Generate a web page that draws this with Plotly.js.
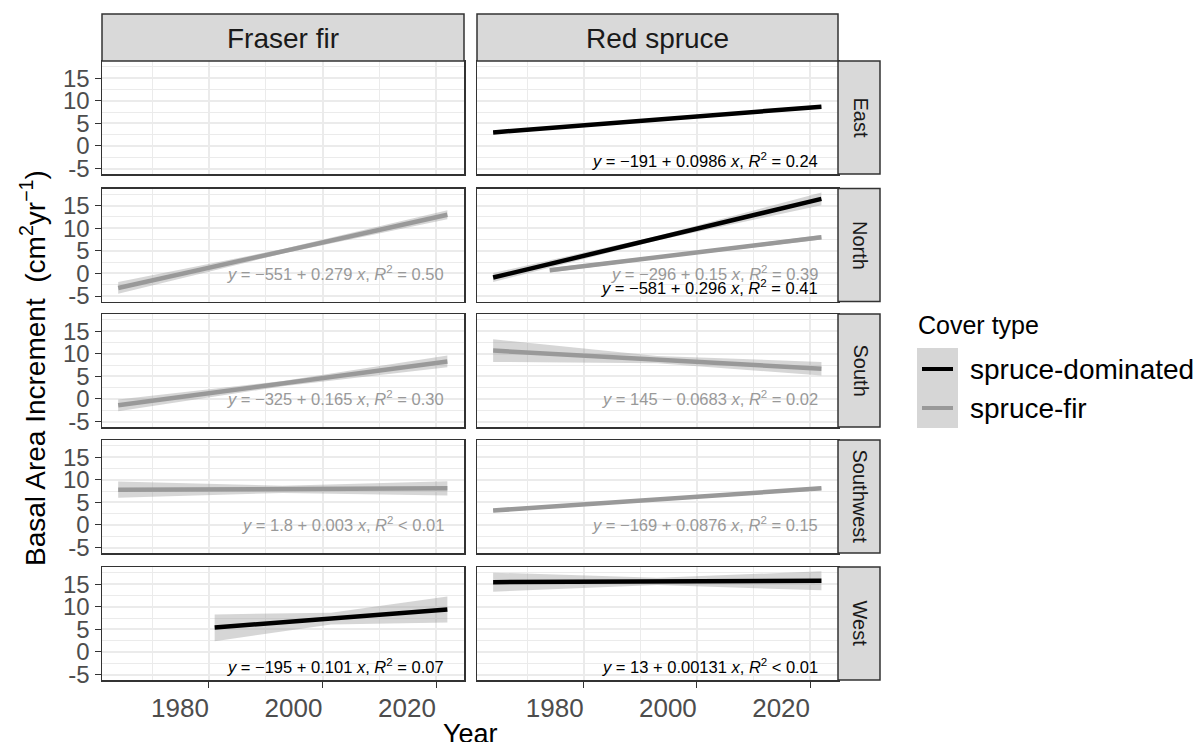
<!DOCTYPE html>
<html>
<head>
<meta charset="utf-8">
<script src="https://cdn.plot.ly/plotly-3.0.1.min.js"></script>
<style>
  html, body { margin: 0; padding: 0; background: #ffffff; }
  #chart { width: 1198px; height: 742px; }
</style>
</head>
<body>
<div id="chart"></div>
<script>
// Facet levels
const species = ['Fraser fir', 'Red spruce'];
const regions = ['East', 'North', 'South', 'Southwest', 'West'];
const coverTypes = ['spruce-dominated', 'spruce-fir'];
const coverColors = ['#000000', '#999999'];

// Axis ticks
const xTickVals = [1980, 2000, 2020];
const xTickText = ['1980', '2000', '2020'];
const yTickVals = [-5, 0, 5, 10, 15];
const yTickText = ['-5', '0', '5', '10', '15'];

// Linear trends of basal area increment, one entry per species x region x cover type
const fitSpecies = ['Fraser fir', 'Fraser fir', 'Fraser fir', 'Fraser fir',
                    'Red spruce', 'Red spruce', 'Red spruce', 'Red spruce', 'Red spruce', 'Red spruce'];
const fitRegion  = ['North', 'South', 'Southwest', 'West',
                    'East', 'North', 'North', 'South', 'Southwest', 'West'];
const fitCover   = ['spruce-fir', 'spruce-fir', 'spruce-fir', 'spruce-dominated',
                    'spruce-dominated', 'spruce-dominated', 'spruce-fir', 'spruce-fir', 'spruce-fir', 'spruce-dominated'];
const fitYears   = [[1964, 1993, 2022], [1964, 1993, 2022], [1964, 1993, 2022], [1981, 2001.5, 2022],
                    [1964, 1993, 2022], [1964, 1993, 2022], [1974, 1998, 2022], [1964, 1993, 2022],
                    [1964, 1993, 2022], [1964, 1993, 2022]];
const fitValue   = [[-3.2, 4.9, 13.0], [-1.4, 3.4, 8.3], [7.8, 7.9, 8.1], [5.4, 7.4, 9.4],
                    [3.0, 5.85, 8.7], [-0.9, 7.8, 16.5], [0.7, 4.35, 8.0], [10.7, 8.7, 6.7],
                    [3.2, 5.65, 8.1], [15.45, 15.6, 15.75]];
const fitLower   = [[-4.5, 4.4, 12.0], [-2.7, 2.8, 7.0], [6.0, 7.1, 6.5], [2.4, 6.1, 6.5],
                    [2.6, 5.65, 8.3], [-1.9, 7.3, 15.1], [0.2, 4.05, 7.5], [8.2, 7.9, 5.2],
                    [2.8, 5.45, 7.7], [13.35, 14.8, 13.65]];
const fitUpper   = [[-1.9, 5.4, 14.0], [-0.1, 4.0, 9.6], [9.6, 8.7, 9.7], [8.3, 8.7, 12.3],
                    [3.4, 6.05, 9.1], [0.1, 8.3, 17.9], [1.2, 4.65, 8.5], [13.2, 9.5, 8.2],
                    [3.6, 5.85, 8.5], [17.55, 16.4, 17.85]];
const fitLabel   = [
  '<i>y</i> = \u2212551 + 0.279 <i>x</i>, <i>R</i><sup>2</sup> = 0.50',
  '<i>y</i> = \u2212325 + 0.165 <i>x</i>, <i>R</i><sup>2</sup> = 0.30',
  '<i>y</i> = 1.8 + 0.003 <i>x</i>, <i>R</i><sup>2</sup> &lt; 0.01',
  '<i>y</i> = \u2212195 + 0.101 <i>x</i>, <i>R</i><sup>2</sup> = 0.07',
  '<i>y</i> = \u2212191 + 0.0986 <i>x</i>, <i>R</i><sup>2</sup> = 0.24',
  '<i>y</i> = \u2212581 + 0.296 <i>x</i>, <i>R</i><sup>2</sup> = 0.41',
  '<i>y</i> = \u2212296 + 0.15 <i>x</i>, <i>R</i><sup>2</sup> = 0.39',
  '<i>y</i> = 145 \u2212 0.0683 <i>x</i>, <i>R</i><sup>2</sup> = 0.02',
  '<i>y</i> = \u2212169 + 0.0876 <i>x</i>, <i>R</i><sup>2</sup> = 0.15',
  '<i>y</i> = 13 + 0.00131 <i>x</i>, <i>R</i><sup>2</sup> &lt; 0.01'
];

// ---- page geometry (pixels) ----
const W = 1198, H = 742;
const FONT = 'Liberation Sans, Arial, sans-serif';
const colLeft = [102, 477], colRight = [464, 838];
const rowTop = [61, 188.5, 314, 440, 567], rowH = 113;
const stripTop = 14, stripRight = 880;
const xRange = [1961.15, 2024.93], yRange = [-6.2, 18.8];
const fx = p => p / W;
const fy = p => 1 - p / H;

const layout = {
  width: W, height: H,
  margin: { l: 0, r: 0, t: 0, b: 0, pad: 0 },
  paper_bgcolor: '#ffffff', plot_bgcolor: '#ffffff',
  font: { family: FONT, color: '#000000' },
  showlegend: false,
  shapes: [], annotations: []
};

const traces = [];
const panelId = (r, c) => r * 2 + c + 1;
const suffix = id => (id === 1 ? '' : String(id));

for (let r = 0; r < regions.length; r++) {
  for (let c = 0; c < species.length; c++) {
    const sfx = suffix(panelId(r, c));
    const bottom = r === regions.length - 1;
    layout['xaxis' + sfx] = {
      domain: [fx(colLeft[c]), fx(colRight[c])],
      anchor: 'y' + sfx, range: xRange,
      tickmode: 'array', tickvals: xTickVals, ticktext: xTickText,
      showticklabels: bottom, ticks: bottom ? 'outside' : '', ticklen: 6, tickwidth: 1, tickcolor: '#333333',
      ticklabelshift: -29, ticklabelstandoff: -2,
      tickfont: { size: 26, color: '#4D4D4D', family: FONT },
      showgrid: true, gridcolor: '#EBEBEB', gridwidth: 2,
      minor: { tickmode: 'array', tickvals: [1970, 1990, 2010], showgrid: true, gridcolor: '#EBEBEB', gridwidth: 1, ticks: '' },
      showline: true, mirror: true, linecolor: '#333333', linewidth: 1.5,
      zeroline: false, fixedrange: true
    };
    layout['yaxis' + sfx] = {
      domain: [fy(rowTop[r] + rowH), fy(rowTop[r])],
      anchor: 'x' + sfx, range: yRange,
      tickmode: 'array', tickvals: yTickVals, ticktext: yTickText,
      showticklabels: c === 0, ticks: c === 0 ? 'outside' : '', ticklen: 6, tickwidth: 1, tickcolor: '#333333',
      tickfont: { size: 24, color: '#4D4D4D', family: FONT },
      showgrid: true, gridcolor: '#EBEBEB', gridwidth: 2,
      minor: { tickmode: 'array', tickvals: [-2.5, 2.5, 7.5, 12.5, 17.5], showgrid: true, gridcolor: '#EBEBEB', gridwidth: 1, ticks: '' },
      showline: true, mirror: true, linecolor: '#333333', linewidth: 1.5,
      zeroline: false, fixedrange: true
    };
    // keeps every facet drawn, including ones without a fitted trend
    traces.push({ type: 'scatter', mode: 'lines', x: [], y: [], xaxis: 'x' + sfx, yaxis: 'y' + sfx, hoverinfo: 'skip' });

    // right-hand strip with region name
    if (c === 1) {
      layout.shapes.push({
        type: 'rect', xref: 'paper', yref: 'paper',
        x0: fx(colRight[1]), x1: fx(stripRight), y0: fy(rowTop[r] + rowH), y1: fy(rowTop[r]),
        fillcolor: '#D9D9D9', line: { color: '#333333', width: 1.5 }
      });
    }
  }
  layout.annotations.push({
    xref: 'paper', yref: 'paper', x: fx((colRight[1] + stripRight) / 2 + 1), y: fy(rowTop[r] + rowH / 2),
    text: regions[r], textangle: 90, showarrow: false,
    font: { size: 20, color: '#1A1A1A', family: FONT }, xanchor: 'center', yanchor: 'middle'
  });
}

// top strips with species names
species.forEach((s, c) => {
  layout.shapes.push({
    type: 'rect', xref: 'paper', yref: 'paper',
    x0: fx(colLeft[c]), x1: fx(colRight[c]), y0: fy(rowTop[0]), y1: fy(stripTop),
    fillcolor: '#D9D9D9', line: { color: '#333333', width: 1.5 }
  });
  layout.annotations.push({
    xref: 'paper', yref: 'paper', x: fx((colLeft[c] + colRight[c]) / 2), y: fy((stripTop + rowTop[0]) / 2 + 1),
    text: s, showarrow: false, font: { size: 28, color: '#1A1A1A', family: FONT },
    xanchor: 'center', yanchor: 'middle'
  });
});

// confidence bands and trend lines, drawn cover type by cover type
coverTypes.forEach((cover, k) => {
  fitCover.forEach((fc, i) => {
    if (fc !== cover) return;
    const r = regions.indexOf(fitRegion[i]);
    const c = species.indexOf(fitSpecies[i]);
    const sfx = suffix(panelId(r, c));
    const yrs = fitYears[i];
    traces.push({
      type: 'scatter', mode: 'lines', xaxis: 'x' + sfx, yaxis: 'y' + sfx,
      x: yrs.concat(yrs.slice().reverse()),
      y: fitUpper[i].concat(fitLower[i].slice().reverse()),
      fill: 'toself', fillcolor: 'rgba(153,153,153,0.4)', line: { width: 0 },
      hoverinfo: 'skip', name: cover
    });
    traces.push({
      type: 'scatter', mode: 'lines', xaxis: 'x' + sfx, yaxis: 'y' + sfx,
      x: yrs, y: fitValue[i],
      line: { color: coverColors[k], width: 4.5 }, name: cover
    });
    layout.annotations.push({
      xref: 'x' + sfx, yref: 'y' + sfx, x: 2021.7, y: k === 1 ? 0.2 : -3.1,
      text: fitLabel[i], showarrow: false, xanchor: 'right', yanchor: 'middle',
      font: { size: 16.5, color: coverColors[k], family: FONT }
    });
  });
});

// axis titles
layout.annotations.push({
  xref: 'paper', yref: 'paper', x: fx(470), y: fy(734),
  text: 'Year', showarrow: false, font: { size: 27, color: '#000000', family: FONT },
  xanchor: 'center', yanchor: 'middle'
});
layout.annotations.push({
  xref: 'paper', yref: 'paper', x: fx(33), y: fy(368),
  text: 'Basal Area Increment  (cm<sup>2</sup>yr<sup>\u22121</sup>)', textangle: -90, showarrow: false,
  font: { size: 28, color: '#000000', family: FONT }, xanchor: 'center', yanchor: 'middle'
});

// legend
layout.annotations.push({
  xref: 'paper', yref: 'paper', x: fx(916), y: fy(325),
  text: 'Cover type', showarrow: false, font: { size: 25, color: '#000000', family: FONT },
  xanchor: 'left', yanchor: 'middle'
});
layout.shapes.push({
  type: 'rect', xref: 'paper', yref: 'paper', x0: fx(917), x1: fx(958), y0: fy(428), y1: fy(348),
  fillcolor: '#D6D6D6', line: { width: 0 }
});
const legendY = [369, 408];
coverTypes.forEach((cover, k) => {
  layout.shapes.push({
    type: 'line', xref: 'paper', yref: 'paper', x0: fx(922), x1: fx(953), y0: fy(legendY[k]), y1: fy(legendY[k]),
    line: { color: coverColors[k], width: 4 }
  });
  layout.annotations.push({
    xref: 'paper', yref: 'paper', x: fx(968), y: fy(legendY[k]),
    text: cover, showarrow: false, font: { size: 28, color: '#000000', family: FONT },
    xanchor: 'left', yanchor: 'middle'
  });
});

Plotly.newPlot('chart', traces, layout, { staticPlot: true, displayModeBar: false });
</script>
</body>
</html>
